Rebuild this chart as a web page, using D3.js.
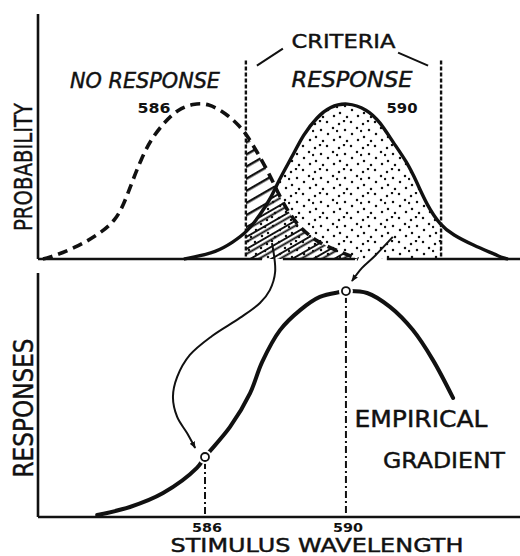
<!DOCTYPE html>
<html>
<head>
  <meta charset="utf-8">
  <title>Criteria and empirical gradient</title>
  <script src="https://d3js.org/d3.v7.min.js"></script>
  <style>
    body { margin: 0; background: #fff; }
    svg { display: block; }
    text { font-family: "DejaVu Sans", sans-serif; fill: #111; stroke: #111; stroke-width: 0.45px; }
    text.num { stroke-width: 0; }
  </style>
</head>
<body>
<div id="chart"></div>
<script>

// ---- data (wavelength in nm, probability / response on 0..1) ----
const wavelengthTicks = [586, 590];

// dashed distribution for the 586 stimulus
const dist586 = [
  [581.40, 0.000], [581.55, 0.004], [582.31, 0.045], [582.96, 0.098],
  [583.45, 0.155], [583.70, 0.225], [583.92, 0.310], [584.18, 0.405],
  [584.47, 0.490], [584.87, 0.562], [585.23, 0.610], [585.66, 0.634],
  [586.09, 0.636], [586.62, 0.592], [586.99, 0.541], [587.19, 0.505],
  [587.48, 0.437], [587.84, 0.343], [588.13, 0.252], [588.41, 0.182],
  [588.70, 0.127], [589.18, 0.069], [589.83, 0.029], [590.20, 0.008],
  [590.35, 0.000]
];

// solid distribution for the 590 stimulus
const dist590 = [
  [585.40, 0.000], [585.57, 0.004], [586.34, 0.029], [586.79, 0.069],
  [587.19, 0.110], [587.56, 0.180], [587.84, 0.240], [588.13, 0.331],
  [588.50, 0.424], [588.78, 0.506], [589.18, 0.580], [589.55, 0.622],
  [590.03, 0.640], [590.60, 0.611], [590.96, 0.561], [591.33, 0.478],
  [591.73, 0.396], [592.01, 0.314], [592.30, 0.220], [592.67, 0.139],
  [593.04, 0.098], [593.60, 0.057], [594.28, 0.016], [594.45, 0.004],
  [594.60, 0.000]
];

const criteria = [587.16, 592.70];
const criteriaTop = 0.81;

// empirical generalization gradient
const gradient = [
  [582.94, 0.008], [583.87, 0.041], [584.81, 0.098], [585.77, 0.201],
  [586.00, 0.246], [586.71, 0.369], [587.28, 0.508], [587.62, 0.635],
  [588.13, 0.766], [588.70, 0.848], [589.26, 0.902], [589.83, 0.922],
  [590.00, 0.926], [590.60, 0.918], [591.25, 0.861], [591.90, 0.766],
  [592.47, 0.643], [593.04, 0.488]
];
const probes = [[586.00, 0.246], [590.00, 0.926]];

// arrows, y in response units (values above 1 reach into the upper panel)
const arrowOverlap = [
  [587.90, 1.123], [587.99, 1.004], [587.84, 0.930], [587.56, 0.877],
  [586.99, 0.816], [586.20, 0.742], [585.57, 0.664], [585.21, 0.574],
  [585.09, 0.492], [585.21, 0.410], [585.49, 0.344], [585.72, 0.283]
];
const arrowPeak = [[591.33, 1.148], [590.82, 1.070], [590.45, 1.020], [590.17, 0.967]];

// gaps in the upper baseline where the arrows pass
const baselineGaps = [[587.62, 588.21], [590.26, 591.16]];

// ---- layout ----
const width = 520, height = 556;

const x = d3.scaleLinear().domain([581.26, 594.94]).range([38, 520]);
const yTop = d3.scaleLinear().domain([0, 1]).range([259, 14]);
const yBot = d3.scaleLinear().domain([0, 1]).range([517, 273]);

const svg = d3.select("#chart").append("svg")
    .attr("width", width)
    .attr("height", height);

svg.append("rect").attr("width", width).attr("height", height).attr("fill", "#fff");

const defs = svg.append("defs");

// stipple texture
const dots = defs.append("pattern")
    .attr("id", "dots")
    .attr("patternUnits", "userSpaceOnUse")
    .attr("width", 24).attr("height", 24);
[[3,4],[15,2],[9,10],[21,8],[4,17],[16,14],[11,21],[22,20],[8,1],[1,11]].forEach(function(p) {
  dots.append("circle").attr("cx", p[0]).attr("cy", p[1]).attr("r", 1.25).attr("fill", "#111");
});

// hatch texture
const hatch = defs.append("pattern")
    .attr("id", "hatch")
    .attr("patternUnits", "userSpaceOnUse")
    .attr("width", 40).attr("height", 10.5)
    .attr("patternTransform", "rotate(-30)");
hatch.append("line").attr("x1", 0).attr("x2", 40).attr("y1", 5).attr("y2", 5)
    .attr("stroke", "#111").attr("stroke-width", 2.4);

// outlined bars where hatch and stipple overlap
const bars = defs.append("pattern")
    .attr("id", "bars")
    .attr("patternUnits", "userSpaceOnUse")
    .attr("width", 40).attr("height", 10.5)
    .attr("patternTransform", "rotate(-30)");
bars.append("rect").attr("width", 40).attr("height", 10.5).attr("fill", "#fff");
bars.append("line").attr("x1", 0).attr("x2", 40).attr("y1", 5).attr("y2", 5)
    .attr("stroke", "#111").attr("stroke-width", 6);
bars.append("line").attr("x1", 0).attr("x2", 40).attr("y1", 5).attr("y2", 5)
    .attr("stroke", "#fff").attr("stroke-width", 2.6);

// arrow head
defs.append("marker")
    .attr("id", "head")
    .attr("viewBox", "0 0 10 10")
    .attr("refX", 9).attr("refY", 5)
    .attr("markerWidth", 7).attr("markerHeight", 7)
    .attr("markerUnits", "userSpaceOnUse")
    .attr("orient", "auto")
  .append("path")
    .attr("d", "M0,1 L10,5 L0,9 Z")
    .attr("fill", "#111");

const smooth = d3.curveCatmullRom.alpha(0.5);

const lineTop = d3.line().x(d => x(d[0])).y(d => yTop(d[1])).curve(d3.curveBasis);
const areaTop = d3.area().x(d => x(d[0])).y0(yTop(0)).y1(d => yTop(d[1])).curve(d3.curveBasis);
const lineBot = d3.line().x(d => x(d[0])).y(d => yBot(d[1])).curve(smooth);

// clip paths
defs.append("clipPath").attr("id", "rightOfCrit")
  .append("rect")
    .attr("x", x(criteria[0])).attr("y", 0)
    .attr("width", width - x(criteria[0])).attr("height", height);

defs.append("clipPath").attr("id", "betweenCrit")
  .append("rect")
    .attr("x", x(criteria[0])).attr("y", 0)
    .attr("width", x(criteria[1]) - x(criteria[0])).attr("height", height);

defs.append("clipPath").attr("id", "under590")
  .append("path").attr("d", areaTop(dist590));

// ---- upper panel ----
// hatched: 586 falls beyond the criterion
svg.append("g").attr("clip-path", "url(#rightOfCrit)")
  .append("path")
    .attr("d", areaTop(dist586))
    .attr("fill", "url(#hatch)");

svg.append("g").attr("clip-path", "url(#rightOfCrit)")
  .append("g").attr("clip-path", "url(#under590)")
  .append("path")
    .attr("d", areaTop(dist586))
    .attr("fill", "url(#bars)");

// stippled: 590 between the criteria
svg.append("g").attr("clip-path", "url(#betweenCrit)")
  .append("path")
    .attr("d", areaTop(dist590))
    .attr("fill", "url(#dots)");

// criteria
svg.selectAll(".crit")
  .data(criteria)
  .enter().append("line")
    .attr("class", "crit")
    .attr("x1", d => x(d)).attr("x2", d => x(d))
    .attr("y1", yTop(criteriaTop)).attr("y2", yTop(0))
    .attr("stroke", "#111")
    .attr("stroke-width", 2.4)
    .attr("stroke-dasharray", "4,2");

svg.append("path")
    .attr("d", lineTop(dist586))
    .attr("fill", "none")
    .attr("stroke", "#111")
    .attr("stroke-width", 3.6)
    .attr("stroke-dasharray", "10,6");

svg.append("path")
    .attr("d", lineTop(dist590))
    .attr("fill", "none")
    .attr("stroke", "#111")
    .attr("stroke-width", 3.4);

// axes of the upper panel
svg.append("line")
    .attr("x1", x.range()[0]).attr("x2", x.range()[0])
    .attr("y1", yTop(1)).attr("y2", yTop(0))
    .attr("stroke", "#111").attr("stroke-width", 2.6);

let segs = [];
let start = x.domain()[0];
baselineGaps.forEach(function(g) { segs.push([start, g[0]]); start = g[1]; });
segs.push([start, x.domain()[1]]);
svg.selectAll(".base")
  .data(segs)
  .enter().append("line")
    .attr("class", "base")
    .attr("x1", d => x(d[0])).attr("x2", d => x(d[1]))
    .attr("y1", yTop(0)).attr("y2", yTop(0))
    .attr("stroke", "#111").attr("stroke-width", 2.6);

// criteria brackets
const critMid = (criteria[0] + criteria[1]) / 2;
svg.append("line")
    .attr("x1", x(criteria[0]) + 11).attr("y1", yTop(criteriaTop) + 5)
    .attr("x2", x(criteria[0]) + 37).attr("y2", yTop(criteriaTop) - 12)
    .attr("stroke", "#111").attr("stroke-width", 2);
svg.append("line")
    .attr("x1", x(criteria[1]) - 43).attr("y1", yTop(criteriaTop) - 8)
    .attr("x2", x(criteria[1]) - 13).attr("y2", yTop(criteriaTop) + 5)
    .attr("stroke", "#111").attr("stroke-width", 2);

svg.append("text")
    .attr("x", x(critMid)).attr("y", 48)
    .attr("text-anchor", "middle")
    .attr("font-size", 20)
    .attr("textLength", 104).attr("lengthAdjust", "spacingAndGlyphs")
    .text("CRITERIA");

svg.append("text")
    .attr("x", 145).attr("y", 88)
    .attr("text-anchor", "middle")
    .attr("font-size", 22).attr("font-style", "italic")
    .attr("textLength", 150).attr("lengthAdjust", "spacingAndGlyphs")
    .text("NO RESPONSE");

svg.append("text")
    .attr("x", 352).attr("y", 87)
    .attr("text-anchor", "middle")
    .attr("font-size", 22).attr("font-style", "italic")
    .attr("textLength", 121).attr("lengthAdjust", "spacingAndGlyphs")
    .text("RESPONSE");

svg.append("text")
    .attr("class", "num")
    .attr("x", 154).attr("y", 113)
    .attr("text-anchor", "middle")
    .attr("font-size", 14).attr("font-weight", "bold")
    .attr("textLength", 33).attr("lengthAdjust", "spacingAndGlyphs")
    .text("586");

svg.append("text")
    .attr("class", "num")
    .attr("x", 402).attr("y", 113)
    .attr("text-anchor", "middle")
    .attr("font-size", 14).attr("font-weight", "bold")
    .attr("textLength", 31).attr("lengthAdjust", "spacingAndGlyphs")
    .text("590");

svg.append("text")
    .attr("transform", "translate(32,167) rotate(-90)")
    .attr("text-anchor", "middle")
    .attr("font-size", 25)
    .attr("textLength", 128).attr("lengthAdjust", "spacingAndGlyphs")
    .text("PROBABILITY");

// ---- lower panel ----
svg.append("line")
    .attr("x1", x.range()[0]).attr("x2", x.range()[0])
    .attr("y1", yBot(1)).attr("y2", yBot(0))
    .attr("stroke", "#111").attr("stroke-width", 2.6);
svg.append("line")
    .attr("x1", x.range()[0]).attr("x2", x.range()[1])
    .attr("y1", yBot(0)).attr("y2", yBot(0))
    .attr("stroke", "#111").attr("stroke-width", 2.6);

svg.append("path")
    .attr("d", lineBot(gradient))
    .attr("fill", "none")
    .attr("stroke", "#111")
    .attr("stroke-width", 4)
    .attr("stroke-linecap", "round");

// drop lines
svg.selectAll(".drop")
  .data(probes)
  .enter().append("line")
    .attr("class", "drop")
    .attr("x1", d => x(d[0])).attr("x2", d => x(d[0]))
    .attr("y1", d => yBot(d[1]) + 5).attr("y2", yBot(0))
    .attr("stroke", "#111")
    .attr("stroke-width", 2)
    .attr("stroke-dasharray", "7,3,2,3");

svg.selectAll(".halo")
  .data(probes)
  .enter().append("circle")
    .attr("cx", d => x(d[0])).attr("cy", d => yBot(d[1]))
    .attr("r", 7).attr("fill", "#fff");

svg.selectAll(".probe")
  .data(probes)
  .enter().append("circle")
    .attr("cx", d => x(d[0])).attr("cy", d => yBot(d[1]))
    .attr("r", 4).attr("fill", "#fff")
    .attr("stroke", "#111").attr("stroke-width", 1.8);

// arrows from the upper panel to the gradient
[arrowOverlap, arrowPeak].forEach(function(a) {
  svg.append("path")
      .attr("d", lineBot(a))
      .attr("fill", "none")
      .attr("stroke", "#111")
      .attr("stroke-width", 2)
      .attr("marker-end", "url(#head)");
});

svg.selectAll(".tick")
  .data(wavelengthTicks)
  .enter().append("text")
    .attr("class", "tick num")
    .attr("x", d => x(d) + 2).attr("y", 532)
    .attr("text-anchor", "middle")
    .attr("font-size", 13).attr("font-weight", "bold")
    .attr("textLength", 30).attr("lengthAdjust", "spacingAndGlyphs")
    .text(d => d);

svg.append("text")
    .attr("x", 317).attr("y", 552)
    .attr("text-anchor", "middle")
    .attr("font-size", 19)
    .attr("textLength", 293).attr("lengthAdjust", "spacingAndGlyphs")
    .text("STIMULUS  WAVELENGTH");

svg.append("text")
    .attr("x", 421).attr("y", 427)
    .attr("text-anchor", "middle")
    .attr("font-size", 23)
    .attr("textLength", 133).attr("lengthAdjust", "spacingAndGlyphs")
    .text("EMPIRICAL");

svg.append("text")
    .attr("x", 444).attr("y", 468)
    .attr("text-anchor", "middle")
    .attr("font-size", 22)
    .attr("textLength", 122).attr("lengthAdjust", "spacingAndGlyphs")
    .text("GRADIENT");

svg.append("text")
    .attr("transform", "translate(33,408) rotate(-90)")
    .attr("text-anchor", "middle")
    .attr("font-size", 27)
    .attr("textLength", 139).attr("lengthAdjust", "spacingAndGlyphs")
    .text("RESPONSES");

</script>
</body>
</html>
